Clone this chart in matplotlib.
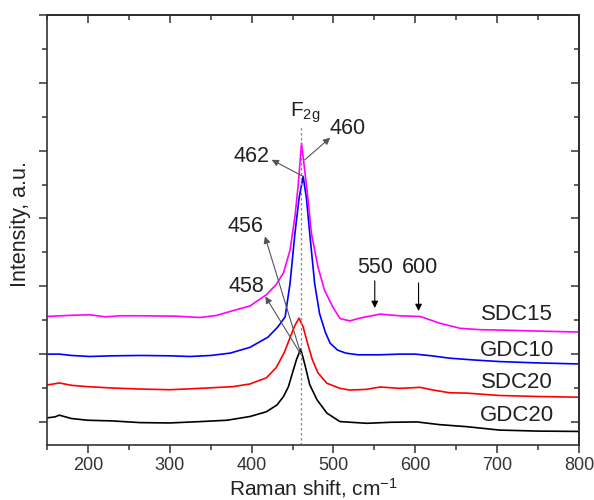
import matplotlib
matplotlib.use("Agg")
import matplotlib.pyplot as plt
from matplotlib.ticker import MultipleLocator, NullFormatter

plt.rcParams['font.family'] = ['Liberation Sans', 'DejaVu Sans']
plt.rcParams['mathtext.fontset'] = 'custom'
plt.rcParams['mathtext.rm'] = 'Liberation Sans'
plt.rcParams['mathtext.it'] = 'Liberation Sans:italic'

# Raman spectra (vertically offset), wavenumber in cm^-1
x_gdc20 = [150, 160, 165, 180, 200, 230, 264, 300, 337, 370, 398, 418, 431, 439, 445,
           450, 455, 460, 465, 471, 480, 492, 508, 541, 570, 602, 630, 663, 703, 750, 800]
y_gdc20 = [0.12, 0.15, 0.20, 0.10, 0.05, 0.03, -0.02, -0.03, 0.01, 0.05, 0.16, 0.30, 0.50,
           0.75, 1.04, 1.45, 1.85, 2.15, 1.70, 1.10, 0.65, 0.26, 0.01, -0.04, -0.01, 0.00,
           -0.08, -0.14, -0.24, -0.27, -0.28]

x_sdc20 = [150, 158, 165, 180, 200, 230, 264, 300, 337, 377, 398, 418, 430, 440, 448, 453,
           458, 463, 468, 474, 481, 492, 508, 520, 540, 557, 581, 606, 622, 642, 663, 703,
           750, 800]
y_sdc20 = [1.09, 1.12, 1.15, 1.08, 1.04, 1.00, 0.97, 0.95, 0.99, 1.04, 1.12, 1.30, 1.60,
           2.05, 2.55, 2.85, 3.06, 2.80, 2.35, 1.85, 1.45, 1.14, 0.99, 0.94, 0.96, 1.03,
           0.99, 1.02, 0.94, 0.86, 0.85, 0.78, 0.75, 0.73]

x_gdc10 = [150, 165, 180, 202, 230, 264, 300, 325, 350, 374, 398, 420, 432, 441, 447, 453,
           458, 463, 467, 471, 477, 483, 490, 496, 505, 515, 530, 557, 581, 600, 620, 642,
           670, 703, 750, 800]
y_gdc10 = [2.00, 2.00, 1.96, 1.93, 1.95, 1.96, 1.95, 1.93, 1.96, 2.03, 2.20, 2.50, 2.80,
           3.10, 4.09, 5.57, 6.60, 7.24, 6.60, 5.57, 4.09, 3.20, 2.65, 2.32, 2.12, 2.03,
           1.98, 1.98, 2.00, 2.00, 1.95, 1.88, 1.83, 1.78, 1.74, 1.71]

x_sdc15 = [150, 175, 202, 221, 240, 264, 306, 337, 357, 377, 398, 418, 430, 439, 447, 453,
           457, 461, 465, 469, 473, 481, 489, 499, 508, 520, 532, 557, 581, 606, 630, 655,
           680, 703, 750, 800]
y_sdc15 = [3.11, 3.14, 3.16, 3.10, 3.13, 3.13, 3.12, 3.08, 3.14, 3.28, 3.42, 3.75, 4.05,
           4.40, 5.07, 6.06, 7.00, 8.22, 7.40, 6.55, 5.57, 4.58, 3.89, 3.40, 3.05, 2.98,
           3.06, 3.18, 3.13, 3.11, 2.91, 2.76, 2.72, 2.71, 2.68, 2.65]

series = [
    ("GDC20", x_gdc20, y_gdc20, "black"),
    ("SDC20", x_sdc20, y_sdc20, "#ff0000"),
    ("GDC10", x_gdc10, y_gdc10, "#0000ff"),
    ("SDC15", x_sdc15, y_sdc15, "#ff00ff"),
]

curve_label_x = 724
curve_label_y = [0.18, 1.15, 2.12, 3.16]

TXT = '#222222'
FS = 15.5

fig = plt.figure(figsize=(5.94, 5.0), dpi=100)
ax = fig.add_axes([0.0791, 0.11, 0.8956, 0.86])

for (name, xs, ys, col), ly in zip(series, curve_label_y):
    ax.plot(xs, ys, color=col, lw=1.2)
    ax.text(curve_label_x, ly, name, fontsize=16, ha='center', va='center', color=TXT)

ax.set_xlim(150, 800)
ax.set_ylim(-0.68, 12)

# F2g position marker
ax.plot([460, 460], [-0.68, 8.7], ls=(0, (2, 2)), color='#888888', lw=0.9)
ax.text(466, 9.0, r"F$_{\mathregular{2g}}$", fontsize=15, ha='center', va='baseline', color=TXT)

grey_arrow = dict(arrowstyle='-|>', color='#555555', lw=0.8, mutation_scale=10, shrinkA=0, shrinkB=0)
black_arrow = dict(arrowstyle='-|>', color='black', lw=0.8, mutation_scale=10, shrinkA=0, shrinkB=0)

ax.annotate("", xy=(496, 8.38), xytext=(465, 7.73), arrowprops=grey_arrow)
ax.text(517, 8.64, "460", fontsize=FS, ha='center', va='center', color=TXT)

ax.annotate("", xy=(424.5, 7.73), xytext=(463, 7.24), arrowprops=grey_arrow)
ax.text(400, 7.83, "462", fontsize=FS, ha='center', va='center', color=TXT)

ax.annotate("", xy=(416.3, 5.47), xytext=(459, 2.1), arrowprops=grey_arrow)
ax.text(393, 5.76, "456", fontsize=FS, ha='center', va='center', color=TXT)

ax.annotate("", xy=(416.8, 3.70), xytext=(460, 2.0), arrowprops=grey_arrow)
ax.text(394, 3.98, "458", fontsize=FS, ha='center', va='center', color=TXT)

ax.annotate("", xy=(550.5, 3.36), xytext=(550.5, 4.16), arrowprops=black_arrow)
ax.text(550.5, 4.54, "550", fontsize=FS, ha='center', va='center', color=TXT)

ax.annotate("", xy=(604, 3.27), xytext=(604, 4.10), arrowprops=black_arrow)
ax.text(606, 4.54, "600", fontsize=FS, ha='center', va='center', color=TXT)

# Axes styling
for sp in ax.spines.values():
    sp.set_linewidth(1.2)
    sp.set_color('#333333')

ax.xaxis.set_major_locator(MultipleLocator(100))
ax.xaxis.set_minor_locator(MultipleLocator(50))
ax.yaxis.set_major_locator(MultipleLocator(2))
ax.yaxis.set_minor_locator(MultipleLocator(1))
ax.yaxis.set_major_formatter(NullFormatter())
ax.set_xticks([200, 300, 400, 500, 600, 700, 800])

ax.tick_params(axis='both', which='major', direction='out', length=6, width=1.1,
               color='#333333', labelsize=13, labelcolor='#333333', pad=3)
ax.tick_params(axis='both', which='minor', direction='out', length=3.5, width=1.1, color='#333333')

top = ax.secondary_xaxis('top')
top.xaxis.set_major_locator(MultipleLocator(100))
top.xaxis.set_minor_locator(MultipleLocator(50))
top.tick_params(which='major', direction='in', length=6, width=1.1, color='#333333', labeltop=False)
top.tick_params(which='minor', direction='in', length=3.5, width=1.1, color='#333333')
top.spines['top'].set_linewidth(1.2)

right = ax.secondary_yaxis('right')
right.yaxis.set_major_locator(MultipleLocator(2))
right.yaxis.set_minor_locator(MultipleLocator(1))
right.tick_params(which='major', direction='in', length=6, width=1.1, color='#333333', labelright=False)
right.tick_params(which='minor', direction='in', length=3.5, width=1.1, color='#333333')
right.spines['right'].set_linewidth(1.2)

ax.set_xlabel(r"Raman shift, cm$^{\mathregular{-1}}$", fontsize=15, color=TXT)
ax.xaxis.set_label_coords(0.5, -0.072)
ax.set_ylabel("Intensity, a.u.", fontsize=FS, color=TXT)
ax.yaxis.set_label_coords(-0.03, 0.514)

fig.savefig("out.png", dpi=100)
